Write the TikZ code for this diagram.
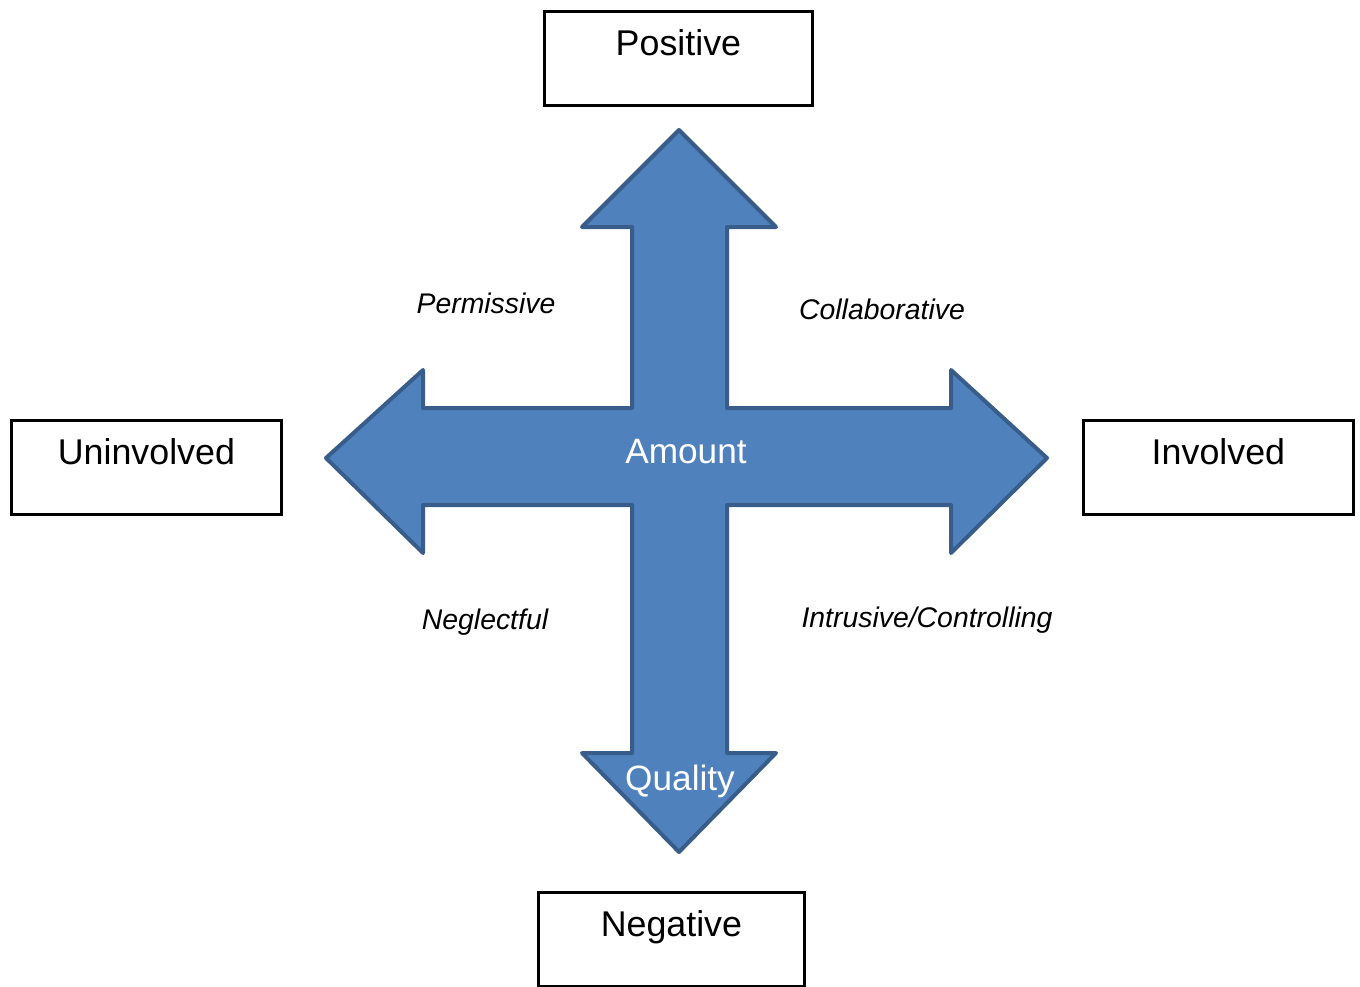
\documentclass[tikz,border=0pt]{standalone}
\usepackage{fontspec}
\setmainfont{Liberation Sans}
\definecolor{arrowfill}{HTML}{4F81BD}
\definecolor{arrowline}{HTML}{385D8A}
\begin{document}
\begin{tikzpicture}[x=0.5pt,y=-0.5pt,
  polebox/.style={draw=black, line width=1.4pt, fill=white, inner sep=0pt,
    minimum width=134pt, text height=22pt, text depth=25pt, anchor=north west,
    font=\fontsize{17.9pt}{20pt}\selectfont},
  stylelabel/.style={inner sep=0pt, anchor=base, font=\fontsize{14.2pt}{16pt}\selectfont\itshape},
  axislabel/.style={inner sep=0pt, anchor=base, text=white, font=\fontsize{17.6pt}{20pt}\selectfont}]
\useasboundingbox (0,0) rectangle (1360,986);

% four-way arrow
\draw[fill=arrowfill, draw=arrowline, line width=2pt, line join=round]
  (679,130) -- (776,227) -- (727,227) -- (727,408) -- (951,408) -- (951,370)
  -- (1047,458) -- (951,553) -- (951,505) -- (727,505) -- (727,753) -- (776,753)
  -- (679,852) -- (582,753) -- (632,753) -- (632,505) -- (423,505) -- (423,553)
  -- (326,458) -- (423,370) -- (423,408) -- (632,408) -- (632,227) -- (582,227)
  -- cycle;

% axis labels on the arrow
\node[axislabel] (amount) at (686,463) {Amount};
\node[axislabel] (quality) at (680,790) {Quality};

% pole boxes
\node[polebox] (positive) at (543,10) {Positive};
\node[polebox, minimum width=133pt] (negative) at (537,891) {Negative};
\node[polebox, minimum width=135pt] (uninvolved) at (10,419) {Uninvolved};
\node[polebox, minimum width=135pt] (involved) at (1082,419) {Involved};

% quadrant labels
\node[stylelabel] (permissive) at (486,313) {Permissive};
\node[stylelabel] (collaborative) at (882,319) {Collaborative};
\node[stylelabel] (neglectful) at (485,629) {Neglectful};
\node[stylelabel] (intrusive) at (927,627) {Intrusive/Controlling};
\end{tikzpicture}
\end{document}
